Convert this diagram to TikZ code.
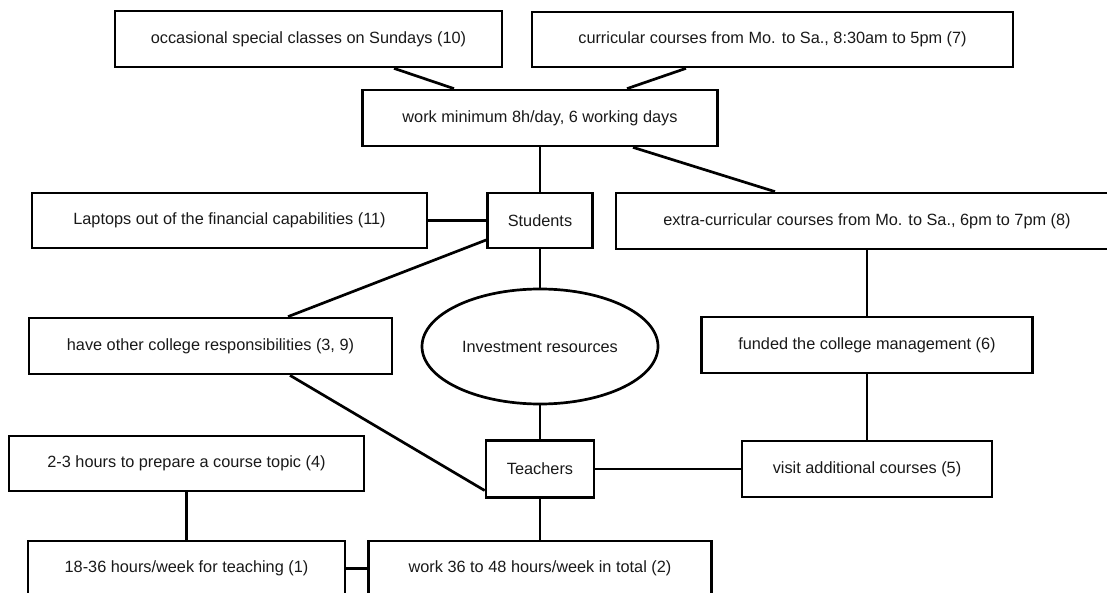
\documentclass[tikz,border=0pt]{standalone}
\usepackage{fontspec}
\setmainfont{Liberation Sans}
\usetikzlibrary{shapes.geometric}
\begin{document}
\begin{tikzpicture}[x=1pt,y=-1pt,
  box/.style={draw=black,line width=2.7pt,rectangle,inner sep=0pt,font=\fontsize{16.3}{19}\selectfont,text=black!90},
  oval/.style={draw=black,line width=2.7pt,ellipse,inner sep=0pt,font=\fontsize{16.3}{19}\selectfont,text=black!90},
  link/.style={draw=black,line width=2.7pt}]
\useasboundingbox (0,0) rectangle (1107,593);
\clip (0,0) rectangle (1107,593);
\node[box,minimum width=387pt,minimum height=56pt] (occ) at (308.5,39) {occasional special classes on Sundays (10)};
\node[box,minimum width=481pt,minimum height=55pt] (cur) at (772.5,39.5) {curricular courses from Mo. to Sa., 8:30am to 5pm (7)};
\node[box,minimum width=355pt,minimum height=56pt] (work) at (540,118) {work minimum 8h/day, 6 working days};
\node[box,minimum width=105pt,minimum height=55pt] (stu) at (540,220.5) {Students};
\node[box,minimum width=395pt,minimum height=55pt] (lap) at (229.5,220.5) {Laptops out of the financial capabilities (11)};
\node[box,minimum width=502pt,minimum height=56pt] (extra) at (867,221) {extra-curricular courses from Mo. to Sa., 6pm to 7pm (8)};
\node[box,minimum width=363pt,minimum height=56pt] (have) at (210.5,346) {have other college responsibilities (3, 9)};
\node[oval,minimum width=236pt,minimum height=115pt] (ell) at (540,346.5) {Investment resources};
\node[box,minimum width=331pt,minimum height=56pt] (fund) at (867,345) {funded the college management (6)};
\node[box,minimum width=108pt,minimum height=57pt] (teach) at (540,469) {Teachers};
\node[box,minimum width=250pt,minimum height=56pt] (visit) at (867,469) {visit additional courses (5)};
\node[box,minimum width=355pt,minimum height=55pt] (prep) at (186.5,463.5) {2-3 hours to prepare a course topic (4)};
\node[box,minimum width=317pt,minimum height=55pt] (t18) at (186.5,568.5) {18-36 hours/week for teaching (1)};
\node[box,minimum width=343pt,minimum height=55pt] (w36) at (540,568.5) {work 36 to 48 hours/week in total (2)};

\draw[link] ([xshift=85.5pt]occ.south) -- ([xshift=-86pt]work.north);
\draw[link] ([xshift=-86.5pt]cur.south) -- ([xshift=87pt]work.north);
\draw[link] (work.south) -- (stu.north);
\draw[link] ([xshift=93pt]work.south) -- ([xshift=-92pt]extra.north);
\draw[link] (lap.east) -- (stu.west);
\draw[link] ([yshift=-19.5pt]stu.west) -- ([xshift=77.5pt]have.north);
\draw[link] (stu.south) -- (ell.north);
\draw[link] (extra.south) -- (fund.north);
\draw[link] (fund.south) -- (visit.north);
\draw[link] ([xshift=79.5pt]have.south) -- ([yshift=-21.5pt]teach.west);
\draw[link] (ell.south) -- (teach.north);
\draw[link] (teach.east) -- (visit.west);
\draw[link] (teach.south) -- (w36.north);
\draw[link] (prep.south) -- (t18.north);
\draw[link] (t18.east) -- (w36.west);
\end{tikzpicture}
\end{document}
